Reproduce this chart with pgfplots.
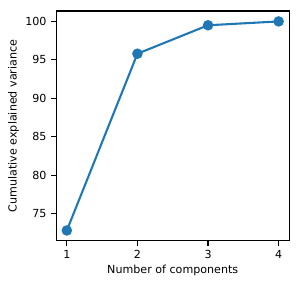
\documentclass[border=0pt]{standalone}
\usepackage{pgfplots}
\pgfplotsset{compat=1.18}
\usepackage{fontspec}
\setmainfont{DejaVu Sans}
\definecolor{tabblue}{HTML}{1F77B4}
\begin{document}
\begin{tikzpicture}
\path (0,0) rectangle (214.6pt,205.9pt);
\begin{axis}[
  at={(40.5pt,32.4pt)}, anchor=south west,
  scale only axis, width=167.8pt, height=165.6pt,
  xmin=0.85, xmax=4.15, ymin=71.44, ymax=101.36,
  xtick={1,2,3,4}, ytick={75,80,85,90,95,100},
  tick align=outside, tick pos=left,
  major tick length=3.5pt,
  major tick style={black, line width=0.8pt},
  axis line style={line width=0.8pt},
  /pgf/number format/assume math mode=true,
  tick label style={font=\fontsize{8}{9}\selectfont},
  label style={font=\fontsize{8}{9}\selectfont},
  xlabel={Number of components},
  ylabel={Cumulative explained variance},
  xlabel style={at={(axis description cs:0.5,0)}, anchor=center, yshift=-20.9pt},
  ylabel style={at={(axis description cs:0,0.5)}, anchor=center, yshift=30.7pt},
  clip=false,
]
\addplot[tabblue, line width=1.5pt, mark=*, mark size=3pt, mark options={solid, fill=tabblue, draw=none}]
coordinates {(1,72.8) (2,95.8) (3,99.5) (4,100.0)};
\end{axis}
\end{tikzpicture}
\end{document}
